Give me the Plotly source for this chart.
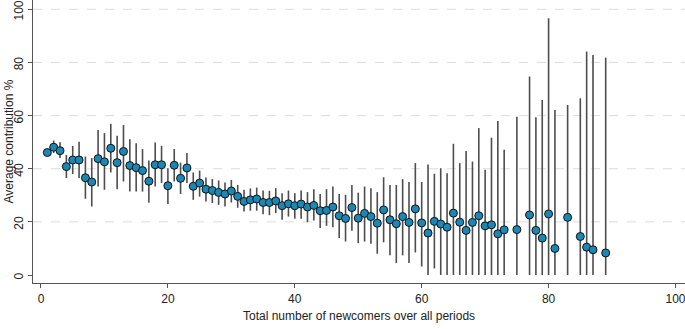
import plotly.graph_objects as go

# ---- data ----
newcomers = [1, 2, 3, 4, 5, 6, 7, 8, 9, 10,
             11, 12, 13, 14, 15, 16, 17, 18, 19, 20,
             21, 22, 23, 24, 25, 26, 27, 28, 29, 30,
             31, 32, 33, 34, 35, 36, 37, 38, 39, 40,
             41, 42, 43, 44, 45, 46, 47, 48, 49, 50,
             51, 52, 53, 54, 55, 56, 57, 58, 59, 60,
             61, 62, 63, 64, 65, 66, 67, 68, 69, 70,
             71, 72, 73, 75, 77, 78, 79, 80, 81, 83,
             85, 86, 87, 89]

mean_contrib = [46.1, 48.1, 46.8, 40.8, 43.3, 43.3, 36.6, 35.0, 43.8, 42.6,
                47.7, 42.3, 46.5, 41.2, 40.4, 39.3, 35.3, 41.5, 41.5, 33.6,
                41.3, 36.4, 40.3, 33.4, 34.6, 32.3, 31.8, 31.1, 30.5, 31.6,
                29.6, 27.7, 28.3, 28.6, 27.3, 27.3, 27.9, 26.1, 26.8, 26.1,
                26.7, 25.6, 26.2, 24.2, 24.3, 25.6, 22.3, 21.3, 25.4, 21.4,
                23.2, 22.0, 19.5, 24.5, 20.8, 19.3, 22.0, 19.8, 24.9, 19.6,
                15.8, 20.2, 19.2, 18.0, 23.3, 19.9, 16.8, 19.8, 22.3, 18.5,
                18.9, 15.5, 17.0, 17.1, 22.6, 16.8, 13.9, 23.0, 10.0, 21.7,
                14.5, 10.5, 9.5, 8.3]

ci_upper = [47.4, 50.6, 50.0, 45.2, 48.6, 50.2, 44.6, 44.0, 54.6, 53.4,
            56.9, 52.4, 56.5, 51.1, 49.6, 47.4, 43.1, 49.9, 48.6, 40.2,
            47.4, 42.3, 45.9, 38.6, 39.3, 36.7, 36.1, 35.6, 34.8, 35.8,
            33.9, 32.1, 32.6, 32.9, 31.8, 31.7, 32.7, 30.8, 31.8, 30.8,
            31.8, 31.2, 32.3, 30.5, 32.3, 33.3, 30.5, 30.2, 33.9, 31.0,
            33.3, 32.7, 31.2, 36.8, 33.9, 33.9, 36.1, 35.0, 42.1, 35.0,
            41.6, 38.1, 40.2, 38.3, 49.4, 42.1, 46.7, 42.7, 55.3, 39.6,
            51.7, 58.0, 47.1, 59.6, 74.7, 59.4, 65.9, 96.6, 62.1, 64.0,
            66.5, 84.1, 82.8, 81.8]

ci_lower = [44.8, 45.9, 44.0, 36.5, 38.0, 36.5, 28.7, 25.8, 33.3, 32.1,
            38.6, 32.3, 35.2, 31.4, 31.4, 31.4, 27.2, 33.3, 34.6, 26.7,
            35.2, 30.5, 34.6, 28.3, 29.5, 27.7, 27.1, 26.4, 25.8, 27.3,
            25.3, 23.9, 24.2, 24.2, 22.9, 22.5, 23.3, 20.8, 22.0, 21.2,
            21.2, 19.9, 20.5, 17.7, 18.5, 18.0, 13.9, 12.6, 16.7, 12.0,
            12.6, 11.8, 8.0, 12.3, 7.4, 4.5, 7.4, 4.5, 8.5, 3.2,
            0.0, 2.5, 0.0, 0.0, 0.0, 0.0, 0.0, 0.0, 0.0, 0.0,
            0.0, 0.0, 0.0, 0.0, 0.0, 0.0, 0.0, 0.0, 0.0, 0.0,
            0.0, 0.0, 0.0, 0.0]

x_ticks = [0, 20, 40, 60, 80, 100]
y_ticks = [0, 20, 40, 60, 80, 100]
grid_lines = [20, 40, 60, 80, 100]
x_title = "Total number of newcomers over all periods"
y_title = "Average contribution %"

err_plus = [u - m for u, m in zip(ci_upper, mean_contrib)]
err_minus = [m - l for m, l in zip(mean_contrib, ci_lower)]

FONT = "Liberation Sans, Arial, Helvetica, sans-serif"

fig = go.Figure()
fig.add_trace(go.Scatter(
    x=newcomers, y=mean_contrib, mode="markers",
    marker=dict(size=8, color="#1a87b5", line=dict(color="#111111", width=1)),
    error_y=dict(type="data", symmetric=False, array=err_plus, arrayminus=err_minus,
                 color="#4d4d4d", thickness=1.6, width=0),
    showlegend=False, cliponaxis=False, hoverinfo="skip",
))

for g in grid_lines:
    fig.add_shape(type="line", xref="paper", yref="y", x0=0, x1=1, y0=g, y1=g,
                  line=dict(color="#dcdcdc", width=1, dash="dash"), layer="below")

fig.add_annotation(text=x_title, xref="paper", yref="paper", x=0.5, y=0,
                   xanchor="center", yanchor="middle", yshift=-33, showarrow=False,
                   font=dict(size=12, color="#222222"))
fig.add_annotation(text=y_title, xref="paper", yref="paper", x=0, y=0.5,
                   xanchor="center", yanchor="middle", xshift=-25, textangle=-90,
                   showarrow=False, font=dict(size=12, color="#222222"))

fig.update_layout(
    width=685, height=329,
    margin=dict(l=33, r=0, t=0, b=46),
    paper_bgcolor="white", plot_bgcolor="white",
    font=dict(family=FONT, size=12, color="#222222"),
    xaxis=dict(range=[-1.26, 101.5], tickvals=x_ticks, ticktext=[str(v) for v in x_ticks],
               showgrid=False, zeroline=False, showline=True, linecolor="#555555",
               linewidth=1.2, ticks="outside", ticklen=4, tickcolor="#555555",
               tickfont=dict(size=12), automargin=False, ticklabeloverflow="allow"),
    yaxis=dict(range=[-3.0, 103.5], tickvals=y_ticks, ticktext=[str(v) for v in y_ticks],
               showgrid=False, zeroline=False, showline=True, linecolor="#555555",
               linewidth=1.2, ticks="outside", ticklen=4, tickcolor="#555555",
               tickangle=-90, tickfont=dict(size=12), automargin=False,
               ticklabeloverflow="allow", ticklabelshift=3),
)

fig.write_html("out.html", config={"displayModeBar": False},
               post_script="document.body.style.margin='0';")
